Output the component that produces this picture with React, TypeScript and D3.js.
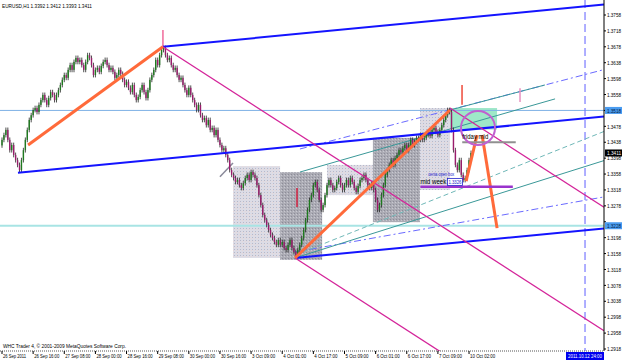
import React from "react";
import * as d3 from "d3";

const W = 625;
const H = 362;

const priceTicks = [1.3758,1.3718,1.3678,1.3638,1.3598,1.3558,1.3518,1.3478,1.3438,1.3398,1.3358,1.3318,1.3278,1.3238,1.3198,1.3158,1.3118,1.3078,1.3038,1.2998,1.2958,1.2918];
const timeLabels = ["26 Sep 2011","26 Sep 16:00","27 Sep 08:00","28 Sep 00:00","28 Sep 16:00","29 Sep 08:00","30 Sep 00:00","30 Sep 16:00","3 Oct 09:00","4 Oct 01:00","4 Oct 17:00","5 Oct 09:00","6 Oct 01:00","6 Oct 17:00","7 Oct 09:00","10 Oct 02:00"];

const closes = [
1.3444,1.3456,1.3469,1.3444,1.3418,1.3431,1.3406,1.3393,1.3381,1.3368,
1.3393,1.3418,1.3444,1.3469,1.3494,1.3506,1.3519,1.3524,1.3514,
1.3532,1.3544,1.3557,1.3544,1.3532,1.3549,1.3564,1.3557,1.3544,1.3557,
1.3569,1.3582,1.3595,1.3607,1.3600,1.3620,1.3632,1.3620,1.3640,1.3650,1.3640,1.3645,
1.3632,1.3620,1.3640,1.3657,1.3650,1.3632,1.3607,1.3620,1.3625,1.3615,1.3630,1.3640,
1.3645,1.3632,1.3620,1.3625,1.3615,1.3600,1.3607,1.3620,1.3610,1.3595,1.3582,1.3590,
1.3575,1.3564,1.3582,1.3557,1.3544,1.3552,1.3569,1.3582,1.3564,1.3549,1.3569,1.3595,
1.3607,1.3620,1.3645,1.3632,1.3657,1.3670,1.3675,1.3657,
1.3645,1.3650,1.3632,1.3620,1.3625,1.3607,1.3595,1.3600,1.3582,1.3569,1.3557,1.3575,
1.3557,1.3544,1.3532,1.3519,1.3532,1.3506,1.3494,1.3499,1.3481,1.3494,1.3469,1.3474,
1.3456,1.3469,1.3444,1.3431,1.3418,1.3423,1.3406,1.3393,1.3368,1.3356,
1.3348,1.3338,1.3343,1.3330,1.3323,1.3335,1.3348,1.3356,1.3343,1.3363,1.3356,1.3348,
1.3330,1.3305,1.3280,1.3255,1.3242,1.3230,1.3217,1.3205,1.3197,1.3187,1.3180,1.3192,
1.3180,1.3187,1.3172,1.3167,1.3180,1.3192,1.3172,1.3162,1.3154,1.3167,
1.3180,1.3197,1.3217,1.3242,1.3268,1.3293,1.3305,1.3330,1.3338,1.3318,1.3293,1.3268,
1.3280,1.3305,1.3330,1.3343,1.3330,1.3318,1.3323,1.3338,1.3348,1.3330,1.3318,1.3330,
1.3343,1.3330,1.3348,1.3338,1.3323,1.3313,1.3328,1.3343,1.3348,1.3356,1.3343,1.3330,1.3323,1.3335,
1.3318,1.3293,1.3268,1.3280,1.3305,1.3330,1.3356,1.3368,1.3381,1.3393,1.3381,1.3398,
1.3406,1.3418,1.3413,1.3423,1.3431,1.3418,1.3431,1.3444,1.3431,1.3439,1.3449,1.3444,
1.3456,1.3444,1.3449,1.3456,1.3464,1.3454,1.3469,1.3474,1.3464,1.3456,1.3469,1.3481,
1.3494,1.3506,1.3519,1.3514,1.3469,1.3418,
1.3381,1.3368,1.3393,1.3356,1.3343,1.3348,1.3368,1.3393,1.3411
];
const firstOpen = 1.3430;

// trend objects: anchors as [barIndex, price]
const blueRays = [
  [[8.2, 1.3361], [82.7, 1.3396]],
  [[82.7, 1.3678], [153.1, 1.3711]],
  [[150.6, 1.3147], [230.2, 1.3184]],
];
const magentaRays = [
  [[82.7, 1.3678], [150, 1.3466]],
  [[230.2, 1.3524], [280, 1.3367]],
  [[150.6, 1.3147], [200, 1.2991]],
];
const dashBlueRays = [
  [[153.1, 1.3421], [308.8, 1.3620]],
  [[150.6, 1.3162], [308.8, 1.3300]],
];
const tealRays = [
  { a: [150.6, 1.3147], b: [308.8, 1.3391], dash: false },
  { a: [150.6, 1.3154], b: [308.8, 1.3464], dash: true },
];
const tealSegs = [
  [[153.1, 1.3363], [284.2, 1.3547]],
  [[230.2, 1.3519], [279.0, 1.3582]],
];
const orangeSegs = [
  [[13.4, 1.3431], [82.7, 1.3678]],
  [[150.6, 1.3147], [230.2, 1.3519]],
  [[238.5, 1.3340], [244.1, 1.3456]],
  [[246.7, 1.3456], [254.4, 1.3222]],
];
const vMarks = [
  { i: 82.7, p1: 1.3720, p2: 1.3678, color: "#f06a9a" },
  { i: 151.6, p1: 1.3323, p2: 1.3275, color: "#d02040" },
  { i: 236.4, p1: 1.3582, p2: 1.3532, color: "#ee4a3a" },
  { i: 266.2, p1: 1.3574, p2: 1.3539, color: "#e890c0" },
];
const greySeg = [[112.0, 1.3351], [118.7, 1.3386]];
const boxes = [
  { a: [118.7, 1.3378], b: [142.9, 1.3147], dark: false },
  { a: [142.9, 1.3363], b: [164.5, 1.3142], dark: true },
  { a: [167, 1.3381], b: [190.6, 1.3305], dark: false },
  { a: [190.6, 1.3449], b: [214.8, 1.3237], dark: true },
  { a: [214.8, 1.3524], b: [230.2, 1.3318], dark: false },
];
const hLines = [
  { p: 1.3518, color: "#7fb2e6", w: 1 },
  { p: 1.3228, color: "#a8e4e4", w: 2 },
];
const lastPrice = 1.3411;

const X0 = 2, PX = 1.946;
const x = d3.scaleLinear().domain([0, 1]).range([X0, X0 + PX]);
const y = d3.scaleLinear().domain([1.2918, 1.3758]).range([349, 15]);
const RIGHT = 604, BOTTOM = 351;

function rayEnd(a: number[], b: number[]) {
  const xa = x(a[0]), ya = y(a[1]), xb = x(b[0]), yb = y(b[1]);
  const s = (yb - ya) / (xb - xa);
  return [xa, ya, RIGHT, ya + s * (RIGHT - xa)];
}

const font = "'Liberation Sans', Arial, sans-serif";

function T(props: { x: number; y: number; w: number; s?: number; fill?: string; children: string }) {
  return (
    <text x={props.x} y={props.y} fontSize={props.s ?? 6} fill={props.fill ?? "#000"} fontFamily={font} textLength={props.w} lengthAdjust="spacingAndGlyphs">
      {props.children}
    </text>
  );
}

export default function App() {
  const candles = closes.map((c, i) => {
    const o = i === 0 ? firstOpen : closes[i - 1];
    return { o, c, h: Math.max(o, c) + 0.0006, l: Math.min(o, c) - 0.0006 };
  });
  return (
    <svg width={W} height={H} style={{ position: "absolute", left: 0, top: 0, background: "#fff" }}>
      <defs>
        <clipPath id="plot"><rect x={0} y={0} width={RIGHT} height={BOTTOM} /></clipPath>
        <pattern id="dotsL" width="3" height="3" patternUnits="userSpaceOnUse">
          <rect width="3" height="3" fill="#dcdce6" />
          <rect x="0" y="0" width="1" height="1" fill="#b8b8c8" />
          <rect x="2" y="1" width="1" height="1" fill="#e8d8d8" />
        </pattern>
        <pattern id="dotsD" width="3" height="3" patternUnits="userSpaceOnUse">
          <rect width="3" height="3" fill="#ababb4" />
          <rect x="0" y="0" width="1" height="1" fill="#8c8c98" />
          <rect x="2" y="1" width="1" height="1" fill="#c8c8d0" />
        </pattern>
      </defs>
      <rect x={0} y={0} width={W} height={H} fill="#fff" />
      <g clipPath="url(#plot)">
        {boxes.map((b, i) => (
          <rect key={i} x={x(b.a[0])} y={y(b.a[1])} width={x(b.b[0]) - x(b.a[0])} height={y(b.b[1]) - y(b.a[1])} fill={b.dark ? "url(#dotsD)" : "url(#dotsL)"} />
        ))}
        <rect x={x(230.2)} y={y(1.3524)} width={x(254.4) - x(230.2)} height={y(1.3470) - y(1.3524)} fill="#9ee8c8" />
        {hLines.map((l, i) => (
          <line key={i} x1={0} x2={RIGHT} y1={y(l.p)} y2={y(l.p)} stroke={l.color} strokeWidth={l.w} />
        ))}
        <line x1={x(299.6)} x2={x(299.6)} y1={0} y2={BOTTOM} stroke="#7a7aff" strokeWidth={1.2} strokeDasharray="8,4" />
        {dashBlueRays.map((r, i) => {
          const [x1, y1, x2, y2] = rayEnd(r[0], r[1]);
          return <line key={i} x1={x1} y1={y1} x2={x2} y2={y2} stroke="#6a6aff" strokeWidth={1} strokeDasharray="7,3,2,3" />;
        })}
        {tealRays.map((r, i) => {
          const [x1, y1, x2, y2] = rayEnd(r.a, r.b);
          return <line key={i} x1={x1} y1={y1} x2={x2} y2={y2} stroke={r.dash ? "#70b8b8" : "#3a9898"} strokeWidth={1} strokeDasharray={r.dash ? "5,3" : undefined} />;
        })}
        {tealSegs.map((s, i) => (
          <line key={i} x1={x(s[0][0])} y1={y(s[0][1])} x2={x(s[1][0])} y2={y(s[1][1])} stroke="#3a9898" strokeWidth={1} />
        ))}
        <line x1={x(greySeg[0][0])} y1={y(greySeg[0][1])} x2={x(greySeg[1][0])} y2={y(greySeg[1][1])} stroke="#8a8a9a" strokeWidth={1.5} />
        {candles.map((d, i) => {
          const cx = x(i);
          const up = d.c >= d.o;
          return (
            <g key={i}>
              <line x1={cx} x2={cx} y1={y(d.h)} y2={y(d.l)} stroke="#222" strokeWidth={0.8} />
              <rect x={cx - 0.7} width={1.4} y={y(Math.max(d.o, d.c))} height={Math.max(1, Math.abs(y(d.o) - y(d.c)))} fill={up ? "#1f7a1f" : "#9a1c6c"} />
            </g>
          );
        })}
        {vMarks.map((v, i) => (
          <line key={i} x1={x(v.i)} x2={x(v.i)} y1={y(v.p1)} y2={y(v.p2)} stroke={v.color} strokeWidth={1.5} />
        ))}
        {blueRays.map((r, i) => {
          const [x1, y1, x2, y2] = rayEnd(r[0], r[1]);
          return <line key={i} x1={x1} y1={y1} x2={x2} y2={y2} stroke="#1414ff" strokeWidth={2} />;
        })}
        {magentaRays.map((r, i) => {
          const [x1, y1, x2, y2] = rayEnd(r[0], r[1]);
          return <line key={i} x1={x1} y1={y1} x2={x2} y2={y2} stroke="#d4259a" strokeWidth={1.3} />;
        })}
        {orangeSegs.map((s, i) => (
          <line key={i} x1={x(s[0][0])} y1={y(s[0][1])} x2={x(s[1][0])} y2={y(s[1][1])} stroke="#ff6a3a" strokeWidth={3} />
        ))}
        <line x1={x(215)} x2={x(262.5)} y1={y(1.3326)} y2={y(1.3326)} stroke="#9933cc" strokeWidth={2.5} />
        <line x1={x(236.5)} x2={x(264)} y1={y(1.3438)} y2={y(1.3438)} stroke="#909090" strokeWidth={2} />
        <circle cx={x(244.6)} cy={y(1.3474)} r={17} fill="none" stroke="#c060d0" strokeWidth={2} />
        <T x={x(236.5)} y={y(1.3445)} w={26} s={7}>friday mid</T>
        <T x={x(219)} y={y(1.3352)} w={26} s={5} fill="#2222cc">centa open box</T>
        <T x={x(215)} y={y(1.3332)} w={26} s={7}>mid week</T>
        <rect x={x(215) + 27} y={y(1.3332) - 6} width={15} height={7} fill="#fff" stroke="#2222cc" strokeWidth={0.8} />
        <T x={x(215) + 28} y={y(1.3332)} w={13} s={5.5} fill="#2222cc">1.3326</T>
      </g>
      <T x={2} y={8} w={90}>EURUSD,H1  1.3392 1.3412 1.3393 1.3411</T>
      <T x={3} y={348} w={123} s={5.5}>WHC Trader 4, © 2001-2009 MetaQuotes Software Corp.</T>
      <line x1={RIGHT} x2={RIGHT} y1={0} y2={BOTTOM} stroke="#000" />
      <line x1={0} x2={RIGHT} y1={BOTTOM} y2={BOTTOM} stroke="#555" strokeDasharray="1,1" />
      {priceTicks.map((p) => (
        <g key={p}>
          <line x1={RIGHT} x2={RIGHT + 2} y1={y(p)} y2={y(p)} stroke="#000" />
          {Math.abs(p - hLines[0].p) > 0.0002 && Math.abs(p - hLines[1].p) > 0.0012 && (
            <T x={RIGHT + 3} y={y(p) + 2.2} w={14} s={5.5}>{p.toFixed(4)}</T>
          )}
        </g>
      ))}
      {hLines.map((l, i) => (
        <g key={i}>
          <rect x={RIGHT + 1} y={y(l.p) - 3.5} width={17} height={7} fill="#4a9cf0" />
          <T x={RIGHT + 3} y={y(l.p) + 2.2} w={14} s={5.5} fill="#001a40">{l.p.toFixed(4)}</T>
        </g>
      ))}
      <rect x={RIGHT + 1} y={y(lastPrice) - 3.5} width={17} height={7} fill="#000" />
      <T x={RIGHT + 3} y={y(lastPrice) + 2.2} w={14} s={5.5} fill="#fff">{lastPrice.toFixed(4)}</T>
      {timeLabels.map((t, i) => (
        <g key={t}>
          <line x1={x(i * 16)} x2={x(i * 16)} y1={BOTTOM} y2={BOTTOM + 3} stroke="#000" />
          <T x={x(i * 16) + 1} y={BOTTOM + 7} w={t.length * 2.1} s={5.5}>{t}</T>
        </g>
      ))}
      <rect x={566} y={BOTTOM + 1} width={38} height={8} fill="#0000ee" />
      <T x={568} y={BOTTOM + 7} w={34} s={5.5} fill="#fff">2011.10.12 24:00</T>
    </svg>
  );
}
